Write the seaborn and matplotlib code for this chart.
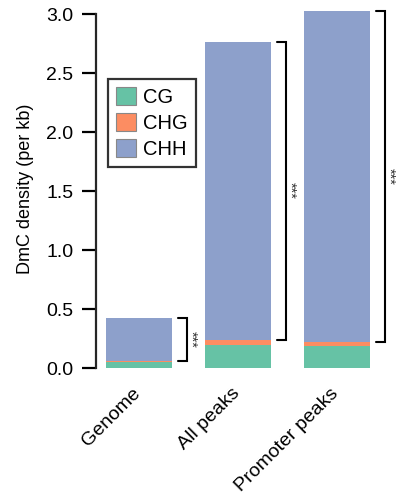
import numpy as np
import pandas as pd
import seaborn as sns
import matplotlib
matplotlib.use("Agg")
import matplotlib.pyplot as plt
import matplotlib.transforms as mtransforms
from matplotlib.patches import Patch

# values (DmC per kb)
groups = ["Genome", "All peaks", "Promoter peaks"]
cg = [0.05, 0.20, 0.19]
chg = [0.01, 0.04, 0.03]
chh = [0.37, 2.53, 2.81]
contexts = ["CG", "CHG", "CHH"]
colors = {"CG": "#66c2a5", "CHG": "#fc8d62", "CHH": "#8da0cb"}

sns.set_style("ticks")
plt.rcParams["font.family"] = ["Liberation Sans", "DejaVu Sans"]
plt.rcParams["text.color"] = "black"
plt.rcParams["axes.labelcolor"] = "black"
plt.rcParams["xtick.color"] = "black"
plt.rcParams["ytick.color"] = "black"

df = pd.DataFrame({"group": groups, "CG": cg, "CHG": chg, "CHH": chh})
df["cum_CG"] = df["CG"]
df["cum_CHG"] = df["CG"] + df["CHG"]
df["cum_CHH"] = df["cum_CHG"] + df["CHH"]

fig = plt.figure(figsize=(3.96, 5.01), dpi=100)
ax = fig.add_axes([0.242, 0.265, 0.758, 0.718])

# stacked bars: draw totals first, then overlay smaller cumulative sums
for ctx in ["CHH", "CHG", "CG"]:
    sns.barplot(data=df, x="group", y=f"cum_{ctx}", color=colors[ctx],
                width=0.67, linewidth=0, saturation=1, ax=ax)

# significance brackets around the CHH part of each bar
for i, row in df.iterrows():
    lo, hi = row["cum_CHG"], row["cum_CHH"]
    x0 = i + 0.40
    x1 = i + 0.49
    ax.plot([x0, x1, x1, x0], [hi, hi, lo, lo], color="black", lw=1.5,
            clip_on=False, solid_joinstyle="miter")
    ax.text(x1 + 0.035, (lo + hi) / 2, "***", rotation=-90, ha="center",
            va="center", fontsize=10.5, color="#333333", clip_on=False)

ax.set_xlim(-0.435, 2.6)
ax.set_ylim(0, 3.05)
ax.set_yticks(np.arange(0, 3.01, 0.5))
ax.set_yticklabels([f"{v:.1f}" for v in np.arange(0, 3.01, 0.5)], fontsize=14)
ax.spines["left"].set_bounds(0, 3.0)
ax.spines["left"].set_linewidth(1.6)
for s in ["top", "right", "bottom"]:
    ax.spines[s].set_visible(False)
ax.tick_params(axis="y", length=10, width=1.6, pad=6)
ax.tick_params(axis="x", length=0, pad=12)
ax.set_xlabel("")
ax.set_ylabel("DmC density (per kb)", fontsize=13, labelpad=9)
shift = mtransforms.ScaledTranslation(-5 / 72, 0, fig.dpi_scale_trans)
for lab in ax.get_xticklabels():
    lab.set_rotation(45)
    lab.set_ha("right")
    lab.set_rotation_mode("anchor")
    lab.set_fontsize(14)
    lab.set_transform(lab.get_transform() + shift)

handles = [Patch(facecolor=colors[c], edgecolor="#888888", lw=0.8) for c in contexts]
leg = ax.legend(handles, contexts, loc="upper left", bbox_to_anchor=(0.04, 0.804),
                borderaxespad=0, fontsize=14.5, frameon=True, fancybox=False,
                handlelength=1.0, handleheight=1.0, handletextpad=0.35,
                labelspacing=0.3, borderpad=0.4)
leg.get_frame().set_edgecolor("black")
leg.get_frame().set_linewidth(1.6)

fig.savefig("out.png", dpi=100)
